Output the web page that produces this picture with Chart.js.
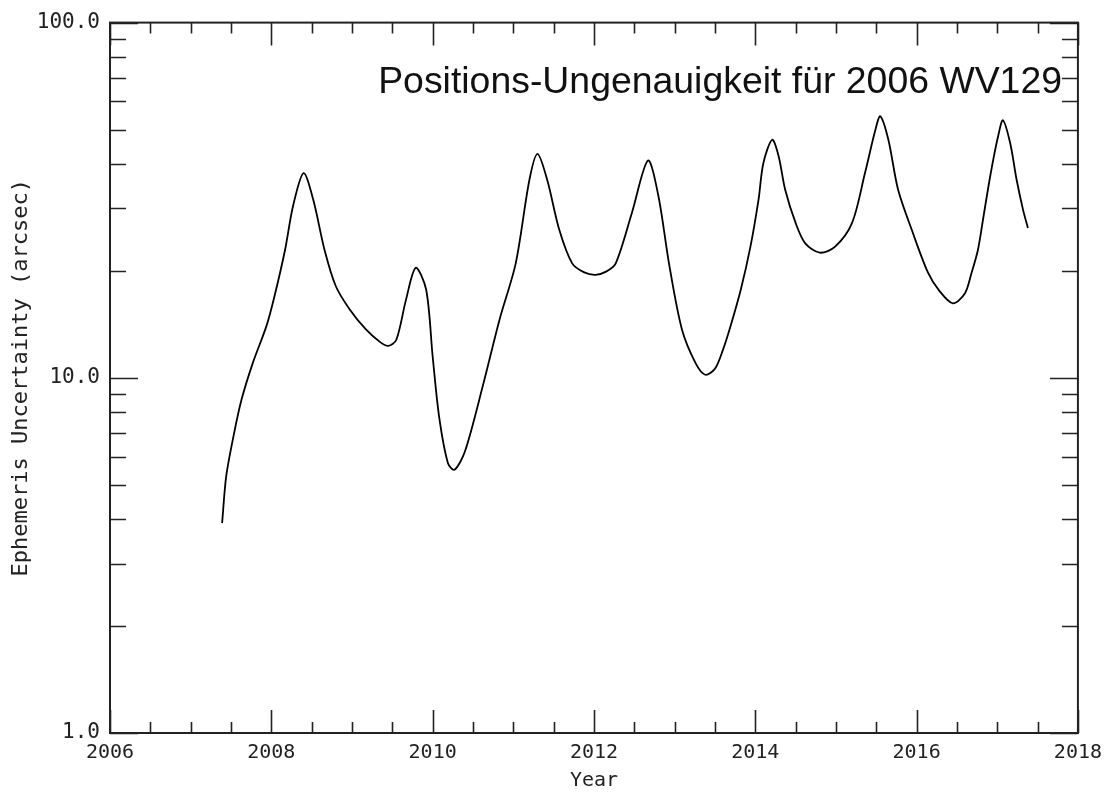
<!DOCTYPE html>
<html>
<head>
<meta charset="utf-8">
<script src="https://cdn.jsdelivr.net/npm/chart.js@4.4.1/dist/chart.umd.min.js"></script>
<style>
  html, body { margin: 0; padding: 0; background: #fff; }
</style>
</head>
<body>
<canvas id="uncChart" width="1110" height="793"></canvas>
<script>
const titleText = "Positions-Ungenauigkeit für 2006 WV129";

// time in years, uncertainty in arcsec
const years = [
  2007.39, 2007.44, 2007.53, 2007.63, 2007.77, 2007.94, 2008.04, 2008.17, 2008.27, 2008.40,
  2008.52, 2008.66, 2008.80, 2008.97, 2009.17, 2009.35, 2009.45, 2009.55, 2009.67, 2009.79,
  2009.92, 2010.00, 2010.08, 2010.19, 2010.27, 2010.40, 2010.62, 2010.83, 2011.03, 2011.20,
  2011.30, 2011.42, 2011.57, 2011.73, 2011.88, 2012.02, 2012.15, 2012.27, 2012.47, 2012.67,
  2012.80, 2012.93, 2013.09, 2013.26, 2013.38, 2013.50, 2013.60, 2013.69, 2013.82, 2013.94,
  2014.04, 2014.10, 2014.21, 2014.29, 2014.37, 2014.50, 2014.62, 2014.80, 2014.99, 2015.20,
  2015.36, 2015.49, 2015.55, 2015.65, 2015.77, 2015.94, 2016.14, 2016.28, 2016.45, 2016.60,
  2016.68, 2016.76, 2016.83, 2016.89, 2016.95, 2017.01, 2017.07, 2017.16, 2017.24, 2017.32,
  2017.38
];
const uncertainty = [
  3.90, 5.27, 6.83, 8.67, 11.0, 14.0, 17.0, 22.9, 30.5, 37.7,
  31.7, 22.9, 18.1, 15.6, 13.7, 12.6, 12.3, 12.8, 16.6, 20.4,
  17.7, 11.5, 7.78, 5.75, 5.51, 6.2, 9.45, 14.6, 21.0, 36.1,
  42.7, 36.1, 26.1, 21.0, 19.8, 19.5, 19.9, 21.0, 29.1, 40.9,
  32.4, 21.0, 13.7, 11.0, 10.2, 10.6, 12.0, 13.9, 17.7, 23.4,
  31.7, 40.2, 46.8, 42.0, 33.9, 27.3, 23.9, 22.5, 23.4, 27.3,
  37.7, 50.0, 54.5, 46.8, 33.9, 26.1, 19.8, 17.6, 16.2, 17.3,
  19.7, 22.9, 28.5, 34.5, 41.1, 47.8, 53.1, 45.8, 36.1, 29.7,
  26.4
];

const xMin = 2006, xMax = 2018, xMajorStep = 2, xMinorStep = 0.5;
const yMajorTicks = [1, 10, 100];
const yMinorMult = [2, 3, 4, 5, 6, 7, 8, 9];

const axisFont = { family: "'DejaVu Sans Mono', monospace", size: 20 };

const frameTicks = {
  id: "frameTicks",
  afterDraw(chart) {
    const { ctx, chartArea: a } = chart;
    const xs = chart.scales.x, ys = chart.scales.y;
    ctx.save();
    ctx.strokeStyle = "#222";
    ctx.lineWidth = 1.6;
    ctx.beginPath();
    for (let v = xMin; v <= xMax; v += xMinorStep) {
      const px = Math.round(xs.getPixelForValue(v)) + 0.5;
      const len = (v - xMin) % xMajorStep === 0 ? 23 : 11;
      ctx.moveTo(px, a.bottom); ctx.lineTo(px, a.bottom - len);
      ctx.moveTo(px, a.top); ctx.lineTo(px, a.top + len);
    }
    yMajorTicks.forEach((d) => {
      const py = Math.round(ys.getPixelForValue(d)) + 0.5;
      ctx.moveTo(a.left, py); ctx.lineTo(a.left + 28, py);
      ctx.moveTo(a.right, py); ctx.lineTo(a.right - 28, py);
      if (d >= 100) return;
      yMinorMult.forEach((m) => {
        const pm = Math.round(ys.getPixelForValue(d * m)) + 0.5;
        ctx.moveTo(a.left, pm); ctx.lineTo(a.left + 16, pm);
        ctx.moveTo(a.right, pm); ctx.lineTo(a.right - 16, pm);
      });
    });
    ctx.stroke();
    ctx.lineWidth = 2;
    ctx.strokeRect(a.left, a.top, a.right - a.left, a.bottom - a.top);

    ctx.font = "37.4px 'Liberation Sans', Arial, sans-serif";
    ctx.fillStyle = "#111";
    ctx.textAlign = "right";
    ctx.textBaseline = "alphabetic";
    ctx.fillText(titleText, 1062, 93);
    ctx.restore();
  }
};

new Chart(document.getElementById("uncChart"), {
  type: "scatter",
  data: {
    datasets: [
      {
        data: years.map((yr, i) => ({ x: yr, y: uncertainty[i] })),
        showLine: true,
        borderColor: "#000",
        borderWidth: 1.8,
        pointRadius: 0,
        tension: 0.3,
      },
    ],
  },
  options: {
    responsive: false,
    animation: false,
    layout: { padding: { top: 22, right: 30, left: 0, bottom: 0 } },
    plugins: { legend: { display: false }, tooltip: { enabled: false } },
    scales: {
      x: {
        type: "linear",
        min: xMin,
        max: xMax,
        grid: { display: false, drawTicks: false },
        border: { display: false },
        ticks: { stepSize: xMajorStep, padding: 8, color: "#222", font: axisFont, callback: (v) => String(v) },
        title: { display: true, text: "Year", color: "#222", font: axisFont, padding: 0 },
        afterFit: (s) => { s.height = 60; },
      },
      y: {
        type: "logarithmic",
        min: 1,
        max: 100,
        grid: { display: false, drawTicks: false },
        border: { display: false },
        ticks: {
          autoSkip: false,
          padding: 10,
          color: "#222",
          font: { family: axisFont.family, size: 21 },
          callback: (v) => (yMajorTicks.includes(v) ? v.toFixed(1) : ""),
        },
        title: {
          display: true,
          text: "Ephemeris Uncertainty (arcsec)",
          color: "#222",
          font: { family: axisFont.family, size: 22 },
          padding: { top: 8, bottom: 0 },
        },
        afterFit: (s) => { s.width = 110; },
      },
    },
  },
  plugins: [frameTicks],
});
</script>
</body>
</html>
